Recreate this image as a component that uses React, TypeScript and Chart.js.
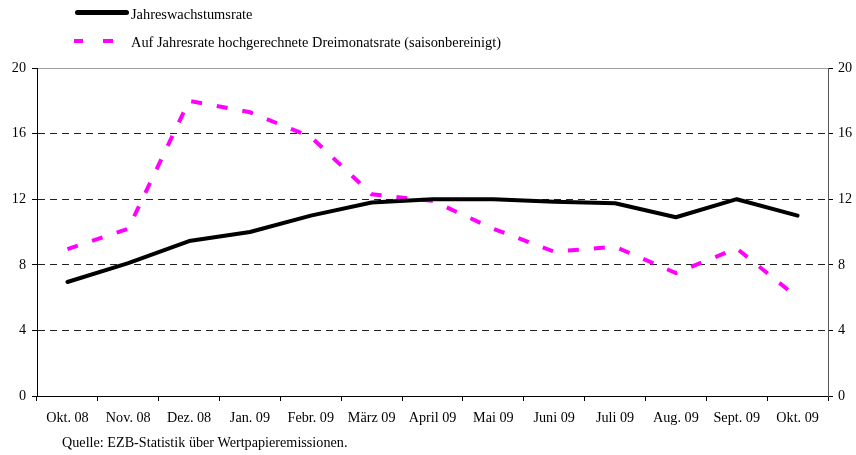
import React, { useEffect, useRef } from "react";
import { Chart, registerables } from "chart.js";

Chart.register(...registerables);

const categories = [
  "Okt. 08", "Nov. 08", "Dez. 08", "Jan. 09", "Febr. 09", "März 09", "April 09",
  "Mai 09", "Juni 09", "Juli 09", "Aug. 09", "Sept. 09", "Okt. 09",
];
const annualGrowth = [6.95, 8.1, 9.45, 10.0, 11.0, 11.8, 12.0, 12.0, 11.85, 11.75, 10.9, 12.0, 11.0];
const threeMonthAnnualised = [8.95, 10.2, 18.0, 17.3, 15.8, 12.3, 11.9, 10.2, 8.8, 9.1, 7.5, 9.0, 6.0];
const yMin = 0;
const yMax = 20;
const yStep = 4;

const legendLabels = [
  "Jahreswachstumsrate",
  "Auf Jahresrate hochgerechnete Dreimonatsrate (saisonbereinigt)",
];
const sourceText = "Quelle: EZB-Statistik über Wertpapieremissionen.";

const FONT = "'Liberation Serif', 'Times New Roman', serif";

export default function App() {
  const canvasRef = useRef<HTMLCanvasElement | null>(null);

  useEffect(() => {
    document.body.style.margin = "0";
    const canvas = canvasRef.current;
    if (!canvas) return;
    Chart.defaults.font.family = FONT;
    Chart.defaults.font.size = 14;
    Chart.defaults.color = "#000";

    const chart = new Chart(canvas, {
      type: "line",
      data: {
        labels: categories,
        datasets: [
          {
            label: legendLabels[0],
            data: annualGrowth,
            borderColor: "#000000",
            borderWidth: 4,
            borderCapStyle: "round",
            borderJoinStyle: "round",
            pointRadius: 0,
            tension: 0,
            fill: false,
            yAxisID: "y",
          },
          {
            label: legendLabels[1],
            data: threeMonthAnnualised,
            borderColor: "#ff00ff",
            borderWidth: 4,
            borderDash: [11, 15],
            borderCapStyle: "butt",
            pointRadius: 0,
            tension: 0,
            fill: false,
            yAxisID: "y",
          },
        ],
      },
      options: {
        responsive: false,
        animation: false,
        layout: { padding: { top: 68, left: 0, right: 0, bottom: 0 } },
        plugins: {
          legend: { display: false },
          tooltip: { enabled: false },
          title: { display: false },
        },
        scales: {
          x: {
            type: "category",
            position: "bottom",
            offset: true,
            grid: {
              display: true,
              offset: true,
              drawOnChartArea: false,
              drawTicks: true,
              tickLength: 5,
              color: "#000",
              tickColor: "#000",
            },
            border: { display: true, color: "#000", width: 1 },
            ticks: {
              autoSkip: false,
              maxRotation: 0,
              minRotation: 0,
              padding: 9,
              color: "#000",
              font: { family: FONT, size: 14.2 },
            },
            afterFit: (scale: any) => {
              scale.height = 59;
            },
          },
          xTop: {
            type: "category",
            position: "top",
            offset: true,
            grid: { display: false, drawTicks: false },
            border: { display: true, color: "#a0a0a0", width: 1 },
            ticks: { display: false },
            afterFit: (scale: any) => {
              scale.height = 0;
            },
          },
          y: {
            type: "linear",
            position: "left",
            min: yMin,
            max: yMax,
            ticks: {
              stepSize: yStep,
              padding: 6,
              color: "#000",
              font: { family: FONT, size: 14.2 },
            },
            grid: {
              display: true,
              drawOnChartArea: true,
              drawTicks: true,
              tickLength: 5,
              lineWidth: 1,
              color: (ctx: any) =>
                ctx.tick && (ctx.tick.value === yMin || ctx.tick.value === yMax)
                  ? "rgba(0,0,0,0)"
                  : "#222",
              tickColor: "#000",
            },
            border: { display: true, color: "#000", width: 1, dash: [7, 5] },
            afterFit: (scale: any) => {
              scale.width = 37;
            },
          },
          y2: {
            type: "linear",
            position: "right",
            min: yMin,
            max: yMax,
            ticks: {
              stepSize: yStep,
              padding: 5,
              color: "#000",
              font: { family: FONT, size: 14.2 },
            },
            grid: {
              display: true,
              drawOnChartArea: false,
              drawTicks: true,
              tickLength: 5,
              tickColor: "#000",
            },
            border: { display: true, color: "#555", width: 1 },
            afterFit: (scale: any) => {
              scale.width = 28;
            },
          },
        },
      },
    });
    return () => {
      chart.destroy();
    };
  }, []);

  const textStyle: React.CSSProperties = {
    position: "absolute",
    fontFamily: FONT,
    fontSize: 14.4,
    lineHeight: "16px",
    color: "#000",
    whiteSpace: "nowrap",
  };

  return (
    <div style={{ position: "relative", width: 856, height: 455, background: "#fff" }}>
      <canvas ref={canvasRef} width={856} height={455} style={{ display: "block" }} />
      <div
        style={{
          position: "absolute",
          left: 75,
          top: 10,
          width: 54,
          height: 5,
          background: "#000",
          borderRadius: 2.5,
        }}
      />
      <div style={{ ...textStyle, left: 131, top: 6 }}>{legendLabels[0]}</div>
      <div style={{ position: "absolute", left: 74, top: 39, width: 9, height: 4, background: "#ff00ff" }} />
      <div style={{ position: "absolute", left: 103, top: 39, width: 10, height: 4, background: "#ff00ff" }} />
      <div style={{ ...textStyle, left: 131, top: 34 }}>{legendLabels[1]}</div>
      <div style={{ ...textStyle, fontSize: 14.2, left: 62, top: 434 }}>{sourceText}</div>
    </div>
  );
}
